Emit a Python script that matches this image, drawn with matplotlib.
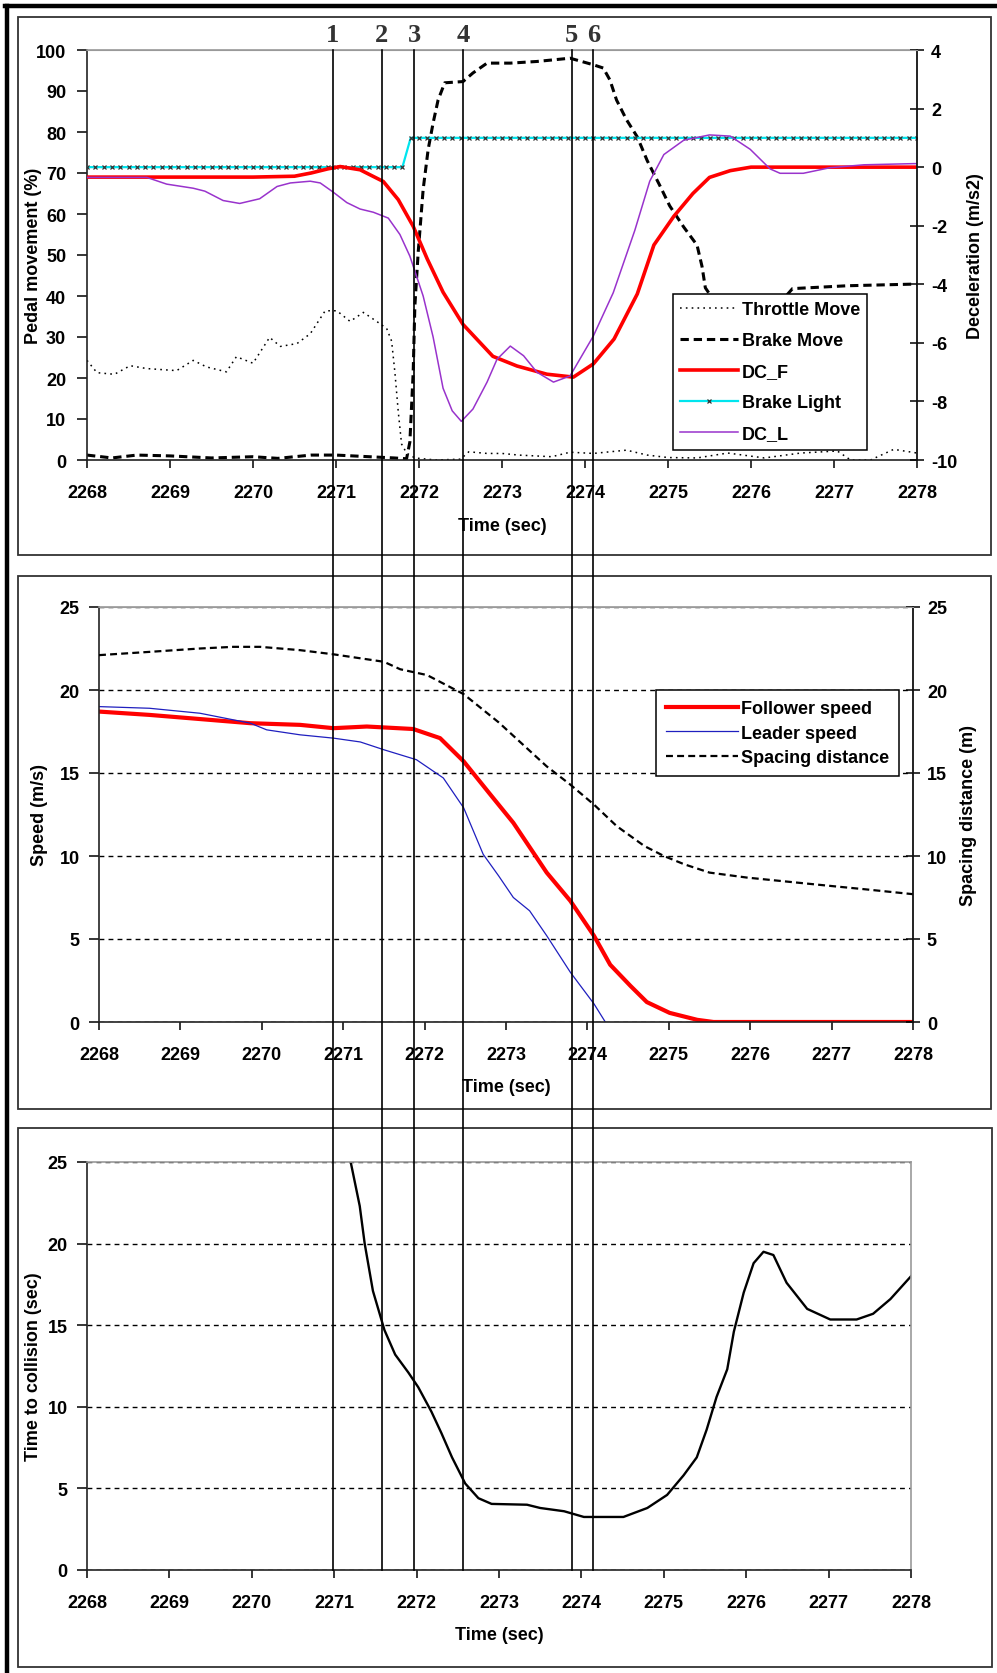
import matplotlib
matplotlib.use("Agg")
import matplotlib.pyplot as plt
from matplotlib.lines import Line2D
from matplotlib.patches import Rectangle
from matplotlib.transforms import blended_transform_factory
import numpy as np

plt.rcParams['font.family'] = ['Liberation Sans', 'DejaVu Sans']
plt.rcParams['font.weight'] = 'bold'
plt.rcParams['font.size'] = 13
plt.rcParams['axes.labelweight'] = 'bold'
plt.rcParams['axes.unicode_minus'] = False
plt.rcParams['lines.scale_dashes'] = False

# ---------------- data ----------------
# top panel: pedal movement (%) and deceleration (m/s2)
throttle_t = [2268.0, 2268.12, 2268.33, 2268.52, 2268.72, 2269.08, 2269.28, 2269.44, 2269.68,
              2269.8, 2270.0, 2270.2, 2270.33, 2270.53, 2270.69, 2270.87, 2271.01, 2271.17,
              2271.33, 2271.49, 2271.61, 2271.67, 2271.71, 2271.75, 2271.79, 2271.85, 2271.95,
              2272.2, 2272.5, 2272.6, 2272.82, 2273.0, 2273.2, 2273.6, 2273.82, 2274.1, 2274.5,
              2274.75, 2275.0, 2275.35, 2275.72, 2276.16, 2276.6, 2277.04, 2277.2, 2277.44,
              2277.72, 2278.0]
throttle_pct = [24.3, 21.3, 20.9, 23.0, 22.3, 21.8, 24.3, 22.7, 21.5, 25.2, 23.6, 29.9, 27.7,
                28.4, 30.8, 36.4, 36.4, 33.8, 36.0, 33.8, 32.1, 29.0, 21.3, 11.8, 3.9, 1.7, 0.5,
                0.0, 0.2, 2.0, 1.6, 1.6, 1.2, 0.8, 1.9, 1.6, 2.4, 1.2, 0.6, 0.5, 1.7, 0.5, 1.7,
                2.2, 0.0, 0.0, 2.6, 1.7]

brake_t = [2268.0, 2268.3, 2268.6, 2269.0, 2269.5, 2270.0, 2270.3, 2270.7, 2271.0, 2271.4,
           2271.7, 2271.85, 2271.89, 2271.93, 2271.95, 2271.99, 2272.05, 2272.11, 2272.17,
           2272.23, 2272.31, 2272.53, 2272.65, 2272.82, 2273.1, 2273.42, 2273.82, 2274.1,
           2274.22, 2274.3, 2274.38, 2274.5, 2274.63, 2274.75, 2274.9, 2275.02, 2275.19,
           2275.35, 2275.41, 2275.45, 2275.55, 2276.0, 2276.4, 2276.5, 2277.16, 2277.96, 2278.0]
brake_pct = [1.2, 0.5, 1.2, 1.0, 0.5, 0.8, 0.4, 1.2, 1.2, 0.8, 0.5, 0.3, 4.4, 21.4, 37.5, 50.6,
             66.0, 75.7, 82.2, 87.8, 92.0, 92.3, 94.4, 96.8, 96.8, 97.2, 98.0, 96.4, 95.6, 92.7,
             87.8, 83.0, 78.8, 73.0, 67.0, 62.0, 56.8, 52.4, 47.2, 42.0, 39.0, 38.5, 39.5, 41.8,
             42.5, 42.9, 42.9]

dcf_t = [2268.0, 2269.0, 2270.0, 2270.5, 2270.7, 2270.9, 2271.05, 2271.29, 2271.57, 2271.75,
         2271.93, 2272.1, 2272.29, 2272.53, 2272.89, 2273.18, 2273.54, 2273.86, 2274.1, 2274.35,
         2274.63, 2274.83, 2275.07, 2275.3, 2275.5, 2275.75, 2276.0, 2277.0, 2278.0]
dcf_ms2 = [-0.34, -0.34, -0.34, -0.31, -0.2, -0.06, 0.02, -0.09, -0.49, -1.11, -2.02, -3.14,
           -4.27, -5.37, -6.46, -6.79, -7.07, -7.17, -6.72, -5.87, -4.33, -2.66, -1.68, -0.9,
           -0.35, -0.12, 0.0, 0.0, 0.0]

dcl_t = [2268.0, 2268.72, 2268.96, 2269.28, 2269.42, 2269.64, 2269.84, 2270.08, 2270.29,
         2270.45, 2270.69, 2270.81, 2270.96, 2271.13, 2271.29, 2271.45, 2271.63, 2271.77,
         2271.89, 2272.05, 2272.17, 2272.29, 2272.4, 2272.51, 2272.65, 2272.82, 2272.94,
         2273.1, 2273.26, 2273.42, 2273.62, 2273.82, 2274.1, 2274.34, 2274.6, 2274.78,
         2274.95, 2275.19, 2275.5, 2275.75, 2275.99, 2276.23, 2276.35, 2276.63, 2276.95,
         2277.36, 2277.96, 2278.0]
dcl_ms2 = [-0.35, -0.35, -0.58, -0.72, -0.82, -1.14, -1.24, -1.08, -0.66, -0.54, -0.48, -0.54,
           -0.84, -1.21, -1.43, -1.54, -1.74, -2.3, -3.04, -4.4, -5.8, -7.55, -8.32, -8.68,
           -8.26, -7.34, -6.56, -6.11, -6.44, -7.0, -7.34, -7.13, -5.77, -4.29, -2.16, -0.48,
           0.43, 0.92, 1.1, 1.06, 0.61, -0.06, -0.21, -0.21, -0.02, 0.08, 0.12, 0.12]

# brake light logged every 0.1 s, switches on at ~2271.85 s
light_t = np.round(np.arange(2268.0, 2278.001, 0.1), 2)
light_on_at = 2271.85
light_val = np.where(light_t >= light_on_at, 1, 0)

# middle panel: speeds (m/s) and spacing (m)
fs_t = [2268.0, 2268.62, 2269.24, 2269.86, 2270.47, 2270.88, 2271.29, 2271.86, 2272.19, 2272.48,
        2272.8, 2273.09, 2273.5, 2273.79, 2274.08, 2274.28, 2274.53, 2274.73, 2275.01, 2275.35,
        2275.55, 2278.0]
fs_v = [18.7, 18.5, 18.25, 18.0, 17.9, 17.7, 17.8, 17.65, 17.1, 15.7, 13.75, 12.0, 9.0, 7.3,
        5.2, 3.45, 2.17, 1.2, 0.55, 0.13, 0.0, 0.0]

ls_t = [2268.0, 2268.62, 2269.24, 2269.86, 2270.06, 2270.47, 2270.88, 2271.21, 2271.5, 2271.9,
        2272.23, 2272.48, 2272.72, 2272.91, 2273.09, 2273.29, 2273.5, 2273.79, 2274.08, 2274.22]
ls_v = [19.0, 18.9, 18.6, 18.0, 17.6, 17.3, 17.1, 16.87, 16.4, 15.8, 14.7, 12.9, 10.1, 8.8, 7.5,
        6.7, 5.2, 3.0, 1.1, 0.0]

sp_t = [2268.0, 2268.63, 2269.24, 2269.65, 2269.98, 2270.47, 2270.88, 2271.5, 2271.7, 2272.03,
        2272.48, 2272.91, 2273.5, 2273.79, 2274.08, 2274.36, 2274.7, 2274.94, 2275.19, 2275.5,
        2275.96, 2276.57, 2276.98, 2277.4, 2278.0]
sp_m = [22.1, 22.3, 22.5, 22.6, 22.6, 22.4, 22.15, 21.7, 21.25, 20.9, 19.75, 18.05, 15.4, 14.3,
        13.1, 11.8, 10.6, 10.0, 9.5, 9.0, 8.7, 8.4, 8.2, 8.0, 7.7]

# bottom panel: time to collision (sec)
ttc_t = [2271.2, 2271.31, 2271.37, 2271.47, 2271.61, 2271.74, 2271.9, 2272.02, 2272.18, 2272.3,
         2272.43, 2272.59, 2272.75, 2272.91, 2273.34, 2273.5, 2273.79, 2274.03, 2274.51, 2274.8,
         2275.04, 2275.24, 2275.4, 2275.52, 2275.64, 2275.77, 2275.85, 2275.97, 2276.09,
         2276.21, 2276.33, 2276.49, 2276.74, 2277.02, 2277.34, 2277.54, 2277.75, 2278.0]
ttc_s = [25.0, 22.3, 20.0, 17.1, 14.7, 13.2, 12.1, 11.2, 9.7, 8.4, 6.9, 5.3, 4.4, 4.05, 4.0,
         3.8, 3.6, 3.25, 3.25, 3.8, 4.6, 5.8, 6.9, 8.6, 10.6, 12.3, 14.6, 17.0, 18.8, 19.5,
         19.3, 17.6, 16.0, 15.35, 15.35, 15.7, 16.6, 18.0]

# event markers (time on the top axis)
event_t = [2270.96, 2271.55, 2271.94, 2272.53, 2273.84, 2274.10]
event_lbl = ['1', '2', '3', '4', '5', '6']

x_ticks = list(range(2268, 2279))

# ---------------- figure ----------------
W, H = 997, 1674
fig = plt.figure(figsize=(W / 100, H / 100), dpi=100)


def px_axes(l, t, r, b):
    return fig.add_axes([l / W, 1 - b / H, (r - l) / W, (b - t) / H])


def frame(l, t, r, b):
    fig.add_artist(Rectangle((l / W, 1 - b / H), (r - l) / W, (b - t) / H,
                             transform=fig.transFigure, fill=False, ec='#333333', lw=1.3))


def style_base(ax, ypad):
    ax.set_xlim(2268, 2278)
    ax.set_xticks(x_ticks)
    ax.spines['top'].set_color('#999999')
    ax.spines['right'].set_color('#999999')
    ax.spines['left'].set_color('#222222')
    ax.spines['bottom'].set_color('#222222')
    for s in ax.spines.values():
        s.set_linewidth(1.2)
    ax.tick_params(axis='x', direction='out', length=6, width=1.1, pad=11, labelsize=13)
    ax.tick_params(axis='y', direction='out', length=7, width=1.1, pad=ypad, labelsize=13)
    ax.set_xlabel('Time (sec)', fontsize=13)


def style_right(axr):
    for k in ['left', 'bottom']:
        axr.spines[k].set_visible(False)
    axr.spines['top'].set_color('#999999')
    axr.spines['right'].set_color('#111111')
    axr.spines['right'].set_linewidth(1.3)
    axr.tick_params(axis='y', direction='inout', length=10, width=1.1, pad=5, labelsize=13)


frame(18, 18, 991, 556)
frame(18, 577, 991, 1110)
frame(18, 1129, 992, 1668)

# outer heavy border (left and top)
fig.add_artist(Line2D([7 / W, 7 / W], [0, 1 - 7 / H], transform=fig.transFigure,
                      color='black', lw=3.2))
fig.add_artist(Line2D([5 / W, 1], [1 - 7 / H, 1 - 7 / H], transform=fig.transFigure,
                      color='black', lw=3.2))

# ---- top panel ----
ax1 = px_axes(87, 51, 917, 461)
style_base(ax1, 8)
ax1.spines['right'].set_visible(False)
ax1.set_ylim(0, 100)
ax1.set_yticks(range(0, 101, 10))
ax1.set_ylabel('Pedal movement (%)', fontsize=13)
ax1.yaxis.set_label_coords(-0.054, 0.5)
ax1.xaxis.set_label_coords(0.5, -0.14)
h_thr, = ax1.plot(throttle_t, throttle_pct, color='black', lw=1.1, ls=(0, (1.2, 3)),
                  label='Throttle Move')
h_brk, = ax1.plot(brake_t, brake_pct, color='black', lw=2.2, ls=(0, (6, 3.5)),
                  label='Brake Move')

ax1r = ax1.twinx()
style_right(ax1r)
ax1r.set_ylim(-10, 4)
ax1r.set_yticks(range(-10, 5, 2))
ax1r.set_ylabel('Deceleration (m/s2)', fontsize=13)
ax1r.yaxis.set_label_coords(1.060, 0.5)
h_light, = ax1r.plot(light_t, light_val, color='#00e5ee', lw=1.6, marker='x', ms=3.2,
                     mew=0.9, mec='#333333', label='Brake Light')
h_dcf, = ax1r.plot(dcf_t, dcf_ms2, color='#ff0000', lw=2.6, label='DC_F')
h_dcl, = ax1r.plot(dcl_t, dcl_ms2, color='#9933cc', lw=1.1, label='DC_L')
leg1 = ax1r.legend(handles=[h_thr, h_brk, h_dcf, h_light, h_dcl], loc='upper left',
                   bbox_to_anchor=(0.706, 0.405), borderaxespad=0, fancybox=False,
                   edgecolor='black', framealpha=1, fontsize=13, handlelength=3.2,
                   handletextpad=0.2, labelspacing=0.78, borderpad=0.4)
leg1.get_frame().set_linewidth(1.1)

# ---- middle panel ----
ax2 = px_axes(99, 608, 913, 1023)
style_base(ax2, 7)
ax2.spines['right'].set_visible(False)
ax2.set_ylim(0, 25)
ax2.set_yticks(range(0, 26, 5))
ax2.yaxis.grid(True, color='black', lw=1.0, ls=(0, (3.5, 3)))
ax2.set_axisbelow(True)
ax2.set_ylabel('Speed (m/s)', fontsize=13)
ax2.yaxis.set_label_coords(-0.063, 0.5)
ax2.xaxis.set_label_coords(0.5, -0.136)
h_fs, = ax2.plot(fs_t, fs_v, color='#ff0000', lw=3.0, label='Follower speed')
h_ls, = ax2.plot(ls_t, ls_v, color='#1f1fbf', lw=0.9, label='Leader speed')

ax2r = ax2.twinx()
style_right(ax2r)
ax2r.set_ylim(0, 25)
ax2r.set_yticks(range(0, 26, 5))
ax2r.set_ylabel('Spacing distance (m)', fontsize=13)
ax2r.yaxis.set_label_coords(1.058, 0.5)
h_sp, = ax2r.plot(sp_t, sp_m, color='black', lw=1.6, ls=(0, (5, 3)), label='Spacing distance')
leg2 = ax2r.legend(handles=[h_fs, h_ls, h_sp], loc='upper left', bbox_to_anchor=(0.684, 0.80),
                   borderaxespad=0, fancybox=False, edgecolor='black', framealpha=1,
                   fontsize=13, handlelength=4.0, handletextpad=0.15, labelspacing=0.42,
                   borderpad=0.55)
leg2.get_frame().set_linewidth(1.1)

# ---- bottom panel ----
ax3 = px_axes(87, 1163, 911, 1571)
style_base(ax3, 7)
ax3.set_ylim(0, 25)
ax3.set_yticks(range(0, 26, 5))
ax3.yaxis.grid(True, color='black', lw=1.0, ls=(0, (3.5, 3)))
ax3.set_axisbelow(True)
ax3.set_ylabel('Time to collision (sec)', fontsize=13)
ax3.yaxis.set_label_coords(-0.0545, 0.5)
ax3.xaxis.set_label_coords(0.5, -0.137)
ax3.plot(ttc_t, ttc_s, color='black', lw=1.7)

# ---- event lines through all panels ----
tr = blended_transform_factory(ax1.transData, fig.transFigure)
for t, lbl in zip(event_t, event_lbl):
    fig.add_artist(Line2D([t, t], [1 - 51 / H, 1 - 1571 / H], transform=tr, color='black',
                          lw=1.2, zorder=10))
    fig.text(t, 1 - 36 / H, lbl, transform=tr, ha='center', va='center', fontsize=19,
             family='Liberation Serif', weight='bold', color='#333333')

fig.savefig('out.png', dpi=100)
